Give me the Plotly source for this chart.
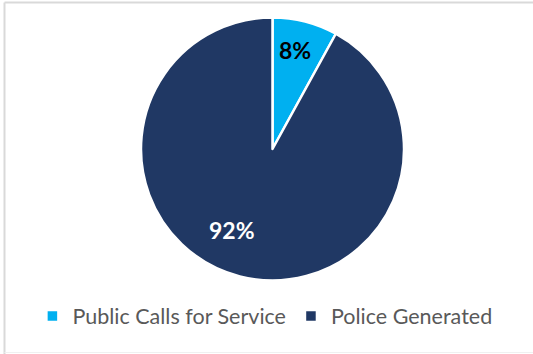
import plotly.graph_objects as go

categories = ["Public Calls for Service", "Police Generated"]
values = [8, 92]
colors = ["#00B0F0", "#203864"]
text_colors = ["#000000", "#FFFFFF"]
# label anchor positions (paper fractions) for each slice label
label_pos = [(295 / 533, 1 - 50 / 354), (232 / 533, 1 - 230 / 354)]

W, H = 533, 354

fig = go.Figure()
fig.add_trace(go.Pie(
    labels=categories,
    values=values,
    sort=False,
    direction="clockwise",
    rotation=0,
    marker=dict(colors=colors, line=dict(color="#FFFFFF", width=2.5)),
    textinfo="none",
    hoverinfo="label+percent",
    domain=dict(x=[141 / W, 404 / W], y=[1 - 281 / H, 1 - 17 / H]),
    showlegend=True,
))

annotations = []
for v, c, (ax, ay) in zip(values, text_colors, label_pos):
    annotations.append(dict(
        xref="paper", yref="paper", x=ax, y=ay,
        xanchor="center", yanchor="middle", showarrow=False,
        text=f"<b>{v}%</b>",
        font=dict(family="Lato", size=23, color=c),
    ))

fig.update_layout(
    width=W, height=H,
    margin=dict(l=0, r=0, t=0, b=0),
    paper_bgcolor="#FFFFFF",
    plot_bgcolor="#FFFFFF",
    showlegend=True,
    annotations=annotations,
    legend=dict(
        orientation="h",
        x=0.497, xanchor="center",
        y=1 - 316 / H, yanchor="middle",
        font=dict(family="Lato", size=21.5, color="#595959"),
        itemwidth=30,
        tracegroupgap=0,
    ),
    shapes=[
        dict(type="line", xref="paper", yref="paper", x0=4.5 / W, x1=1.0, y0=1 - 2.5 / H, y1=1 - 2.5 / H,
             line=dict(color="#D9D9D9", width=2)),
        dict(type="line", xref="paper", yref="paper", x0=4.5 / W, x1=4.5 / W, y0=1 - 2.5 / H, y1=0,
             line=dict(color="#D9D9D9", width=2)),
        dict(type="line", xref="paper", yref="paper", x0=4.5 / W, x1=1.0, y0=1 - 352.5 / H, y1=1 - 352.5 / H,
             line=dict(color="#F0F0F0", width=1)),
    ],
)

fig.write_html("out.html")
